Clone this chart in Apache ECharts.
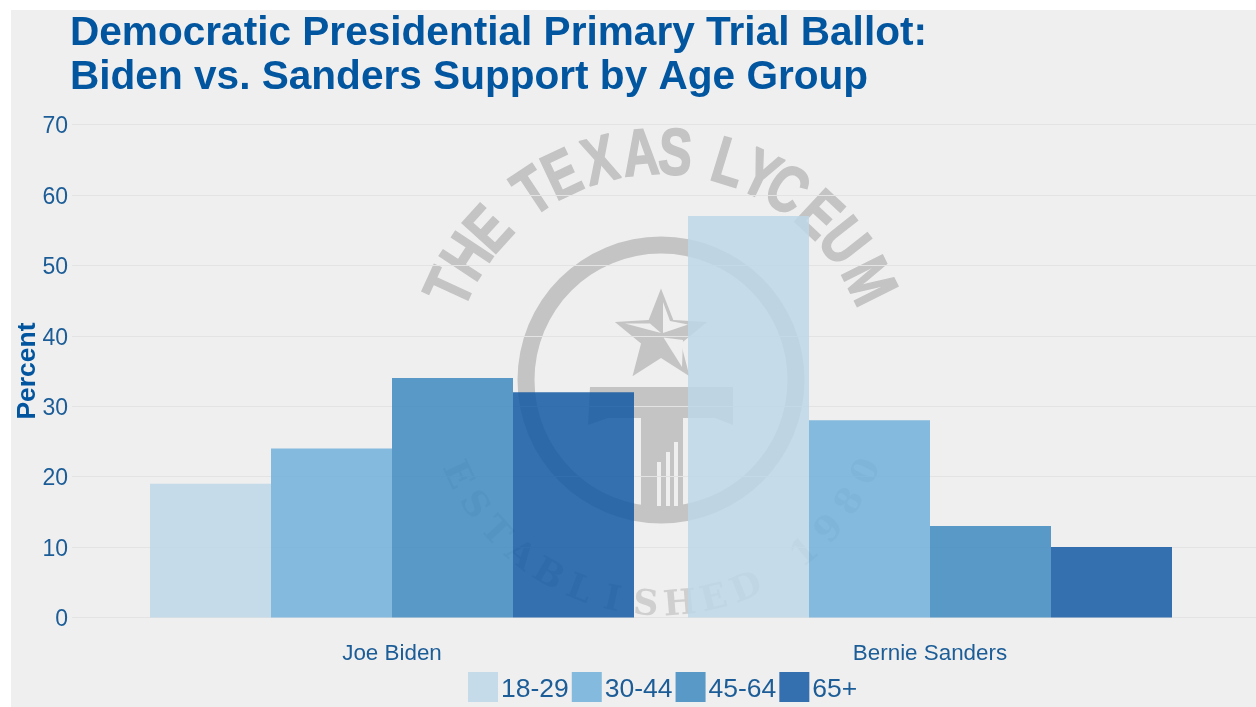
<!DOCTYPE html>
<html><head><meta charset="utf-8">
<style>html,body{margin:0;padding:0;background:#fff}#c{width:1256px;height:707px}</style>
<script src="https://cdn.jsdelivr.net/npm/echarts@6/dist/echarts.min.js"></script>
</head><body><div id="c"></div>
<script>
const categories = ['Joe Biden','Bernie Sanders'];
const age1829 = [19,57];
const age3044 = [24,28];
const age4564 = [34,13];
const age65 = [32,10];
const ageGroups = ['18-29','30-44','45-64','65+'];
const titleLines = ['Democratic Presidential Primary Trial Ballot:','Biden vs. Sanders Support by Age Group'];
const topLetters = [['T',-65.3],['H',-56.5],['E',-47.9],['T',-33.5],['E',-25.2],['X',-15.2],['A',-5],['S',3.5],['L',17],['Y',25.4],['C',32.8],['E',42.9],['U',51.8],['M',63.5]];
const bottomLetters = 'ESTABLISHED 1980';

const font='"Liberation Sans",Arial,sans-serif';
const blue='#02559f', tickBlue='#1c5d97', wm='#c4c4c4', bg='#efefef';
const cx=661, cy=380;
const g=[];
g.push({type:'rect',z:-5,shape:{x:11,y:10,width:1245,height:697},style:{fill:bg},silent:true});
g.push({type:'ring',z:-3,shape:{cx:cx,cy:cy,r:143.5,r0:126.5},style:{fill:wm},silent:true});
topLetters.forEach(([ch,a])=>{
  const t=a*Math.PI/180, r=229;
  g.push({type:'text',z:-3,silent:true,x:cx+r*Math.sin(t),y:cy+5-r*Math.cos(t),rotation:-t,scaleX:0.76,
    style:{text:ch,fill:wm,stroke:wm,lineWidth:1.6,font:'bold 66px "Liberation Sans"',textAlign:'center',textVerticalAlign:'middle'}});
});
bottomLetters.split('').forEach((ch,i)=>{
  if(ch===' ')return;
  const a=(-65+i*8.73)*Math.PI/180, r=226;
  g.push({type:'text',z:-3,silent:true,x:cx+r*Math.sin(a),y:cy+r*Math.cos(a),rotation:a,
    style:{text:ch,fill:'#cfcfcf',font:'bold 35px "DejaVu Serif"',textAlign:'center',textVerticalAlign:'middle'}});
});
// star
const sp=[];for(let i=0;i<10;i++){const R=i%2?21:48.5,t=i*Math.PI/5;sp.push([661+R*Math.sin(t),337-R*Math.cos(t)]);}
g.push({type:'polygon',z:-3,silent:true,shape:{points:sp},style:{fill:wm}});
[[[625,323.5],[650,323.5],[661,333]],[[663,302],[670,321],[688,324.5],[663,333]],[[663.5,337.5],[683,340],[682,367]]].forEach(p=>
  g.push({type:'polygon',z:-3,silent:true,shape:{points:p},style:{fill:bg}}));
// column
g.push({type:'polygon',z:-3,silent:true,shape:{points:[[590,387],[733,387],[733,425],[715,418],[683,418],[683,510],[641,510],[641,418],[608,418],[588,425]]},style:{fill:wm}});
[[657,462],[666,452],[674,442]].forEach(([x,y])=>g.push({type:'rect',z:-3,silent:true,shape:{x:x,y:y,width:4,height:506-y},style:{fill:bg}}));

const colors=['#bed7e8','#71b0d9','#3d89c1','#1358a3'];
const data=[age1829,age3044,age4564,age65];
const series=ageGroups.map((n,i)=>({name:n,type:'bar',xAxisIndex:0,yAxisIndex:0,data:data[i],barWidth:121,barGap:0,
  itemStyle:{color:colors[i],opacity:0.85},emphasis:{disabled:true}}));
const ec=echarts.init(document.getElementById('c'),null,{renderer:'canvas'});
ec.setOption({
  animation:false,
  title:{left:70,top:12,padding:0,text:titleLines.join('\n'),textStyle:{color:blue,fontFamily:font,fontWeight:'bold',fontSize:40.6,lineHeight:44}},
  legend:{left:463,top:667,itemWidth:30,itemHeight:30,itemGap:3,icon:'rect',data:ageGroups,formatter:'{a|{name}}',
    textStyle:{color:tickBlue,fontFamily:font,fontSize:26.5,padding:[0,0,0,-2],rich:{a:{color:tickBlue,fontFamily:font,fontSize:26.5,padding:[6,0,0,0]}}}},
  grid:[{left:123,right:57,top:124.5,bottom:89.5,outerBoundsMode:'none'},{left:72,right:0,top:124.5,bottom:89.5,outerBoundsMode:'none'}],
  xAxis:[{type:'category',gridIndex:0,data:categories,axisLine:{show:false},axisTick:{show:false},axisLabel:{color:tickBlue,fontFamily:font,fontSize:22.4,margin:25}},
         {type:'value',gridIndex:1,show:false,min:0,max:1}],
  yAxis:[{type:'value',gridIndex:0,min:0,max:70,show:false,splitLine:{show:false}},
         {type:'value',gridIndex:1,min:0,max:70,interval:10,name:'Percent',nameLocation:'middle',nameGap:31,nameMoveOverlap:false,
          nameTextStyle:{color:blue,fontFamily:font,fontWeight:'bold',fontSize:26.5},
          axisLine:{show:false},axisTick:{show:false},axisLabel:{color:tickBlue,fontFamily:font,fontSize:23,margin:4,verticalAlign:'top',lineHeight:5},
          splitLine:{lineStyle:{color:'#e3e3e3',width:1}}}],
  graphic:g,
  series:series
});
</script></body></html>
